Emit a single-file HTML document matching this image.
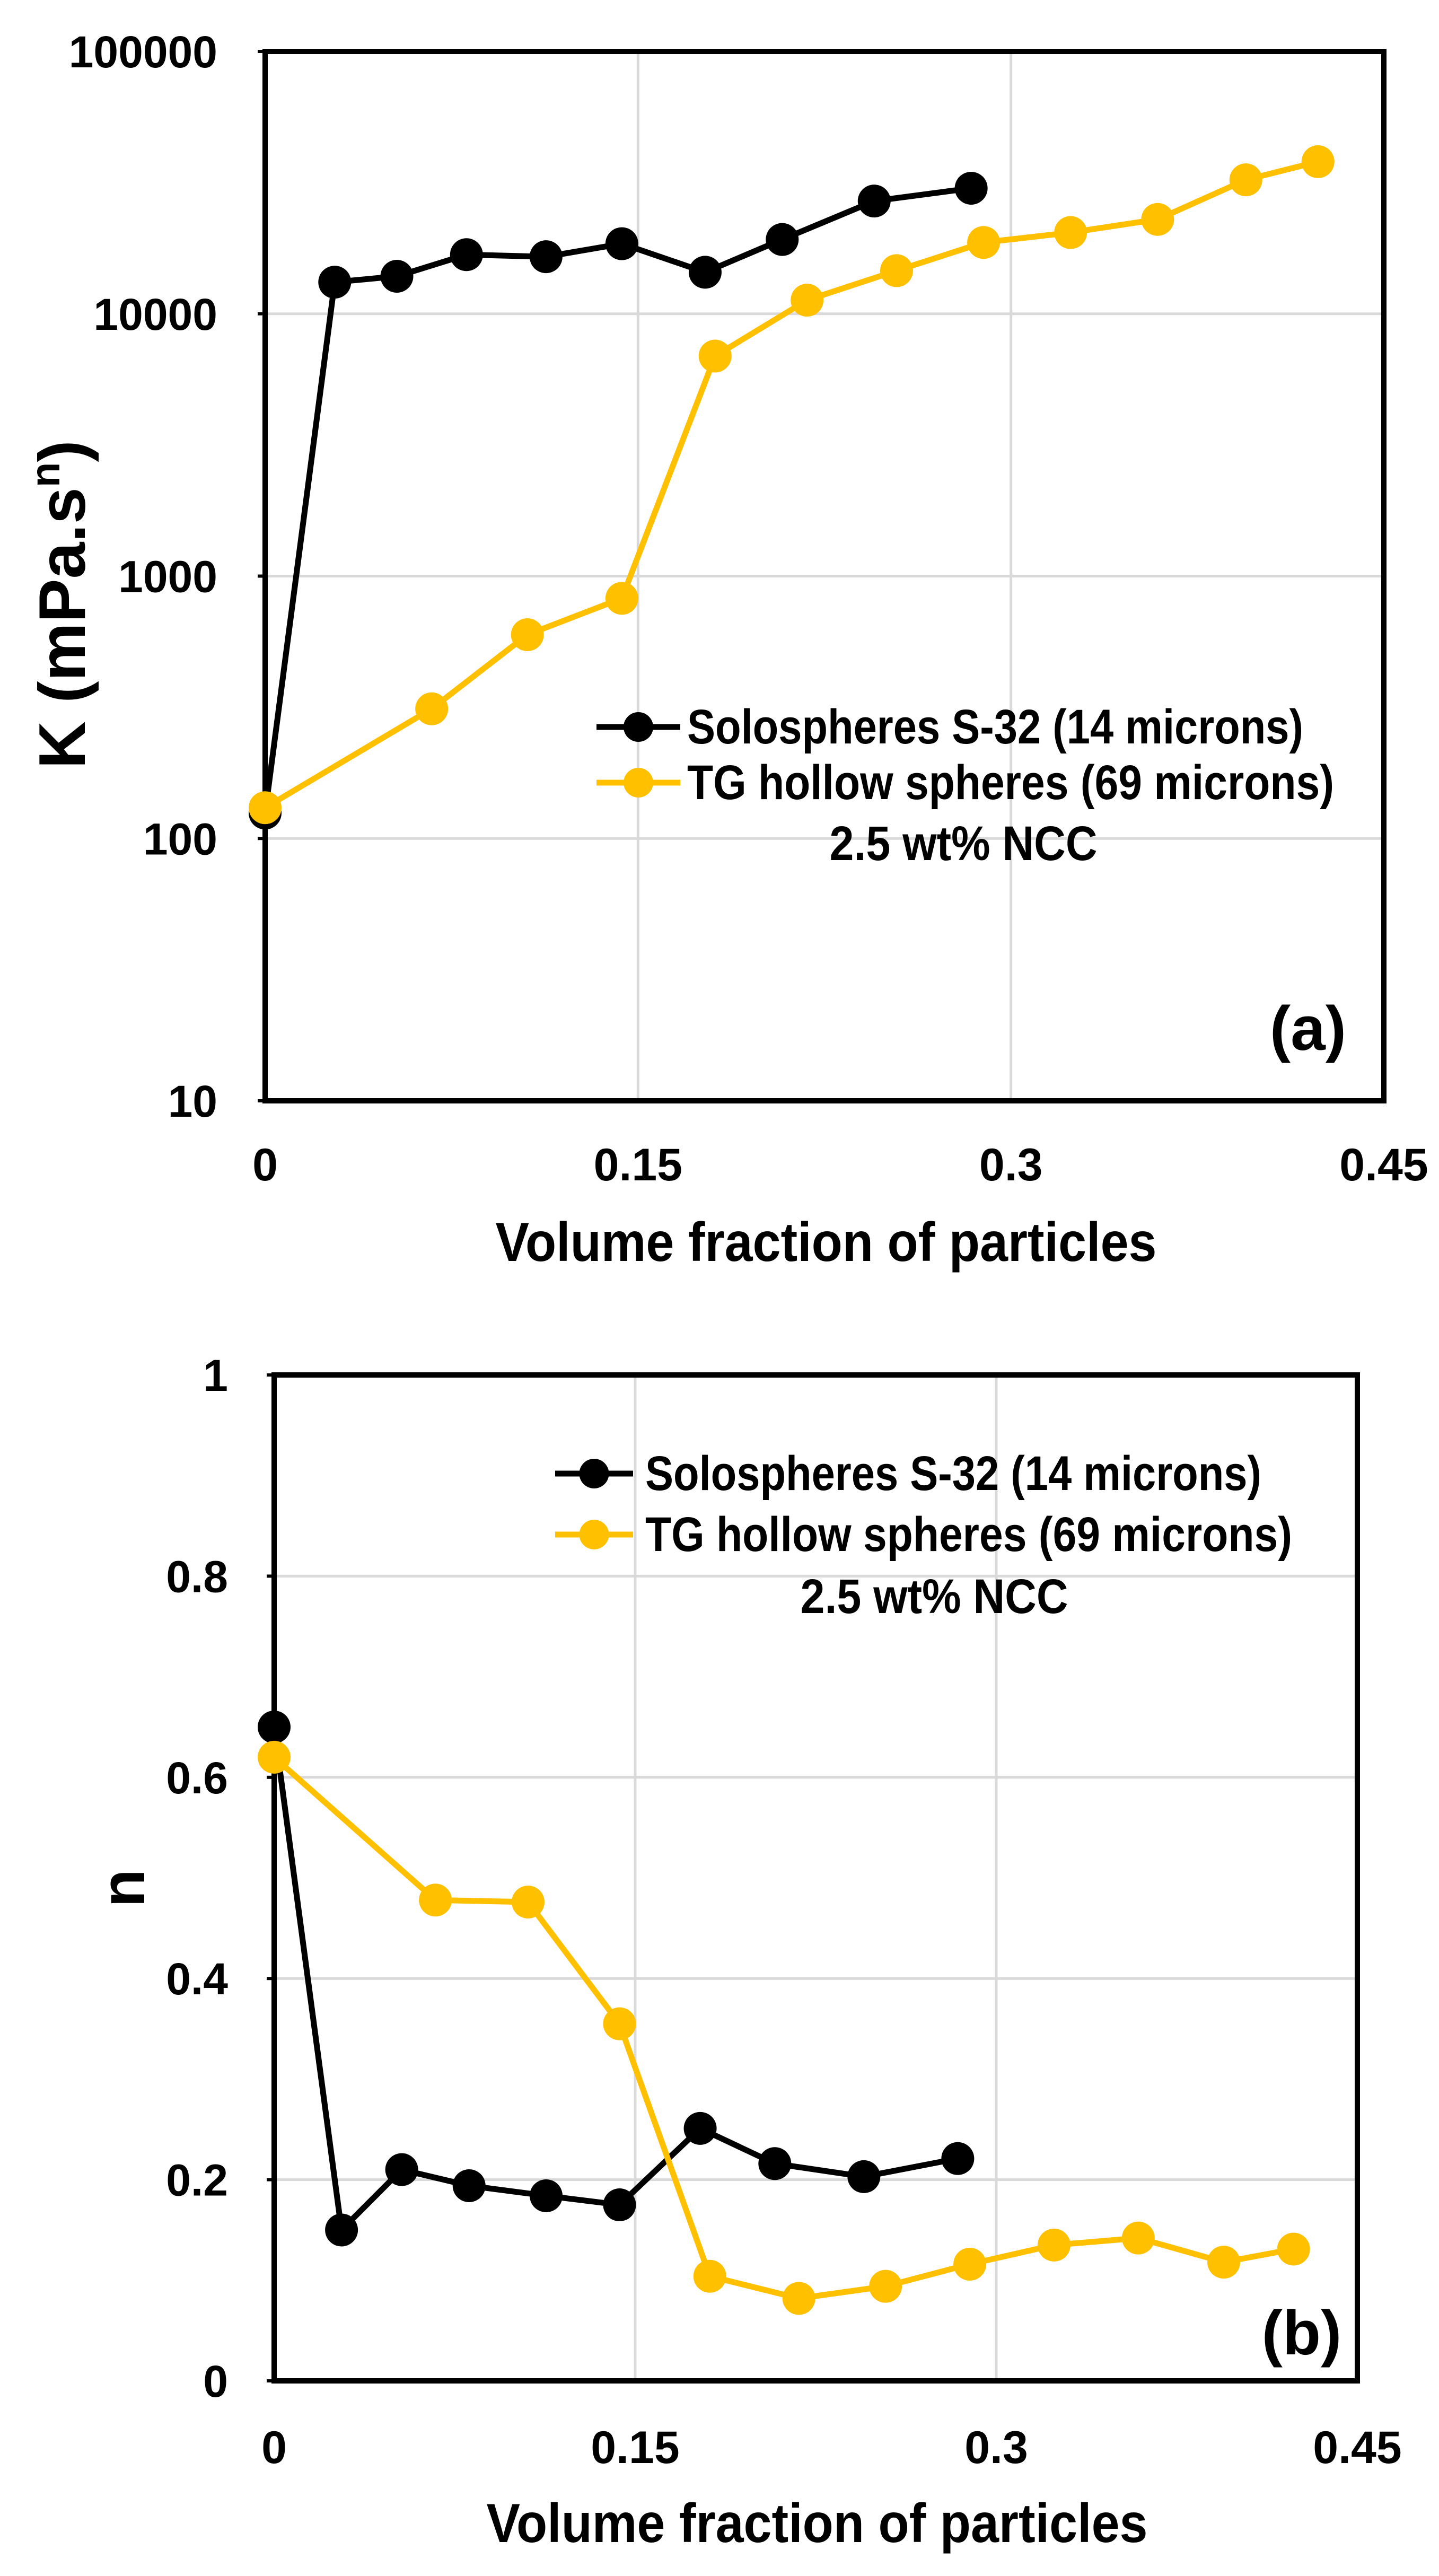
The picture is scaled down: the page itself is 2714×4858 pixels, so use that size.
<!DOCTYPE html>
<html><head><meta charset="utf-8"><style>
html,body{margin:0;padding:0;background:#fff;}
svg{display:block;}
text{font-family:"Liberation Sans",sans-serif;font-weight:bold;fill:#000;}
</style></head><body>
<svg id="svg" width="2714" height="4858" viewBox="0 0 2714 4858" xmlns="http://www.w3.org/2000/svg">
<g id="ga"></g>
<g id="gb"></g>
</svg>
<script>
const blackX = [0, 0.028, 0.053, 0.081, 0.113, 0.1435, 0.177, 0.208, 0.245, 0.284];
const blackK = [125, 13200, 13900, 16800, 16500, 18500, 14400, 19200, 26900, 30100];
const blackN = [0.65, 0.150, 0.210, 0.194, 0.184, 0.175, 0.251, 0.216, 0.203, 0.221];
const yellowX = [0, 0.067, 0.1055, 0.1435, 0.181, 0.218, 0.254, 0.289, 0.324, 0.359, 0.3945, 0.4235];
const yellowK = [131, 312, 598, 823, 6900, 11270, 14600, 18700, 20400, 22900, 32400, 38000];
const yellowN = [0.62, 0.478, 0.476, 0.355, 0.104, 0.082, 0.094, 0.116, 0.135, 0.142, 0.118, 0.131];
const xTicks = [0, 0.15, 0.3, 0.45];
const xTickLabels = ["0", "0.15", "0.3", "0.45"];
const kTicks = [10, 100, 1000, 10000, 100000];
const kTickLabels = ["10", "100", "1000", "10000", "100000"];
const nTicks = [0, 0.2, 0.4, 0.6, 0.8, 1];
const nTickLabels = ["0", "0.2", "0.4", "0.6", "0.8", "1"];

const NS = "http://www.w3.org/2000/svg";
function mk(parent, tag, attrs, txt) {
  const e = document.createElementNS(NS, tag);
  for (const k in attrs) e.setAttribute(k, attrs[k]);
  if (txt !== undefined) e.textContent = txt;
  parent.appendChild(e);
  return e;
}

function drawChart(g, cfg) {
  const L = cfg.L, R = cfg.R, T = cfg.T, B = cfg.B;
  const sx = v => L + (v - 0) / 0.45 * (R - L);
  const sy = cfg.sy;
  xTicks.forEach(t => {
    if (t === 0 || t === 0.45) return;
    const l = mk(g, 'line', {x1: sx(t), x2: sx(t), y1: T, y2: B, stroke: '#d9d9d9', 'stroke-width': 5});
    
    
  });
  cfg.yTicks.forEach((t, i) => {
    const y = sy(t);
    if (i > 0 && i < cfg.yTicks.length - 1) {
      const l = mk(g, 'line', {x1: L, x2: R, y1: y, y2: y, stroke: '#d9d9d9', 'stroke-width': 5});
      
      
    }
    const tk = mk(g, 'line', {x1: L - 14, x2: L, y1: y, y2: y, stroke: '#000', 'stroke-width': 6});
    
    
    const tx = mk(g, 'text', {x: cfg.yLabelRight, y: y + 30, 'font-size': 84, 'text-anchor': 'end'}, cfg.yLabels[i]);
    
    
  });
  xTicks.forEach((t, i) => {
    const tx = mk(g, 'text', {x: sx(t), y: cfg.xLabelY, 'font-size': 86, 'text-anchor': 'middle'}, xTickLabels[i]);
    
    
  });
  const fr = mk(g, 'rect', {x: L, y: T, width: R - L, height: B - T, fill: 'none', stroke: '#000', 'stroke-width': 10});
  
  
  function series(xs, ys, color, name) {
    const pts = xs.map((x, i) => sx(x) + ',' + sy(ys[i])).join(' ');
    const pl = mk(g, 'polyline', {points: pts, fill: 'none', stroke: color, 'stroke-width': 11, 'stroke-linejoin': 'round'});
    
    
    xs.forEach((x, i) => {
      const c = mk(g, 'circle', {cx: sx(x), cy: sy(ys[i]), r: 31, fill: color});
      
      
    });
  }
  series(blackX, cfg.black, '#000', 'solospheres');
  series(yellowX, cfg.yellow, '#FFC000', 'tg-hollow-spheres');
  const lg = cfg.leg;
  [[lg.y1, '#000', 'Solospheres S-32 (14 microns)', 1162], [lg.y2, '#FFC000', 'TG hollow spheres (69 microns)', 1220]].forEach((e, i) => {
    const ln = mk(g, 'line', {x1: lg.x1, x2: lg.x2, y1: e[0], y2: e[0], stroke: e[1], 'stroke-width': 11});
    
    
    const c = mk(g, 'circle', {cx: (lg.x1 + lg.x2) / 2, cy: e[0], r: 28, fill: e[1]});
    
    
    const t = mk(g, 'text', {x: lg.tx, y: e[0] + 31, 'font-size': 92, textLength: e[3], lengthAdjust: 'spacingAndGlyphs'}, e[2]);
    
    
  });
  const nc = mk(g, 'text', {x: lg.ncx, y: lg.ncy, 'font-size': 92, 'text-anchor': 'middle', textLength: 505, lengthAdjust: 'spacingAndGlyphs'}, '2.5 wt% NCC');
  
  
  const pl = mk(g, 'text', {x: cfg.panel[0], y: cfg.panel[1], 'font-size': 118, 'text-anchor': 'middle'}, cfg.panelText);
  
  
  const xt = mk(g, 'text', {x: cfg.xTitle[0], y: cfg.xTitle[1], 'font-size': 104, 'text-anchor': 'middle', textLength: 1247, lengthAdjust: 'spacingAndGlyphs'}, 'Volume fraction of particles');
  
  
}

const ga = document.getElementById('ga');
const aT = 97, aB = 2076;
drawChart(ga, {
  L: 500, R: 2610, T: aT, B: aB,
  sy: v => aB - (Math.log10(v) - 1) / 4 * (aB - aT),
  yTicks: kTicks, yLabels: kTickLabels, yLabelRight: 410, xLabelY: 2226,
  black: blackK, yellow: yellowK,
  leg: {x1: 1125, x2: 1283, tx: 1296, y1: 1371, y2: 1476, ncx: 1817, ncy: 1622},
  panel: [2467, 1980], panelText: '(a)', xTitle: [1558, 2378]
});
const yta = mk(ga, 'text', {x: 0, y: 0, 'font-size': 124, 'text-anchor': 'middle', transform: 'translate(160,1140) rotate(-90)'});


yta.innerHTML = 'K (mPa.s<tspan dy="-48" font-size="78">n</tspan><tspan dy="48">)</tspan>';

const gb = document.getElementById('gb');
const bT = 2593, bB = 4490;
drawChart(gb, {
  L: 517, R: 2560, T: bT, B: bB,
  sy: v => bB - v * (bB - bT),
  yTicks: nTicks, yLabels: nTickLabels, yLabelRight: 430, xLabelY: 4645,
  black: blackN, yellow: yellowN,
  leg: {x1: 1047, x2: 1194, tx: 1217, y1: 2779, y2: 2894, ncx: 1762, ncy: 3042},
  panel: [2455, 4440], panelText: '(b)', xTitle: [1541, 4794]
});
const ytb = mk(gb, 'text', {x: 0, y: 0, 'font-size': 118, 'text-anchor': 'middle', transform: 'translate(272,3561) rotate(-90)'}, 'n');


</script>
</body></html>
